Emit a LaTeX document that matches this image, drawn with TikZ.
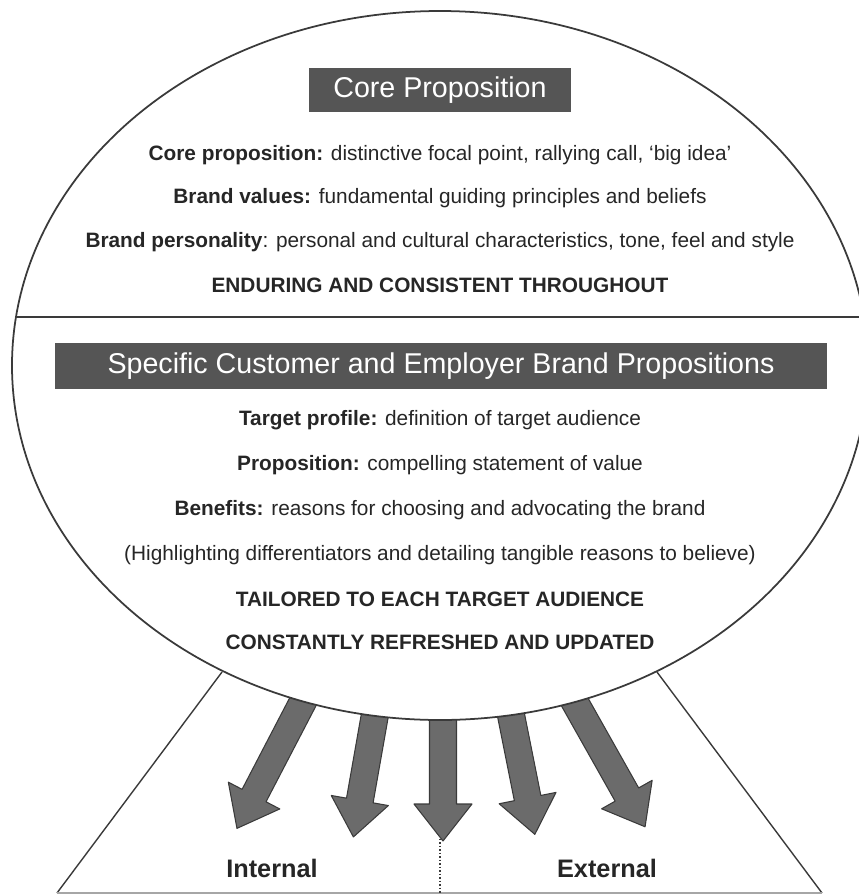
\documentclass[tikz,border=0pt]{standalone}
\usepackage{fontspec}
\setmainfont{Liberation Sans}
\usepackage{tikz}
\usetikzlibrary{positioning,calc}

\definecolor{boxgray}{HTML}{555555}
\definecolor{arrowgray}{HTML}{6B6B6B}
\definecolor{linegray}{HTML}{3A3A3A}

\tikzset{
  titlebox/.style={fill=boxgray, text=white, inner sep=0pt,
    font=\fontsize{16.3}{18}\selectfont},
  bodytext/.style={inner sep=0pt, text=black!85,
    font=\fontsize{11.85}{14}\selectfont},
  sidetext/.style={inner sep=0pt, text=black!85,
    font=\fontsize{14.4}{16}\selectfont\bfseries},
  fatarrow/.style={fill=arrowgray, draw=linegray, line width=0.6pt, line join=round}
}

\begin{document}
\begin{tikzpicture}[x=0.02cm, y=-0.02cm]

\useasboundingbox (0,0) rectangle (859,894);
\clip (0,0) rectangle (859,894);

% Fan below the ellipse
\coordinate (fl) at (222,672);
\coordinate (fr) at (657,672);
\coordinate (bl) at (57,893);
\coordinate (br) at (822,893);
\draw[linegray, line width=0.8pt] (fl) -- (bl);
\draw[linegray, line width=0.8pt] (fr) -- (br);
\draw[black!35, line width=0.8pt] (bl) -- (br);

% Dotted divider
\coordinate (dtop) at (440,712);
\coordinate (dbot) at (440,894);
\draw[linegray, densely dotted, line width=1pt] (dtop) -- (dbot);

% Arrows out of the ellipse
\foreach \tx/\ty/\ang/\len in {309/690/-117.5/156, 377/703/-100/136,
    443/706/-90/135, 508/700/-78.7/137, 568/690/-60.6/157}{
  \begin{scope}[shift={(\tx,\ty)}, rotate=\ang]
    \draw[fatarrow] (0,-13.5) -- (\len-37,-13.5) -- (\len-37,-29) -- (\len,0)
      -- (\len-37,29) -- (\len-37,13.5) -- (0,13.5) -- cycle;
  \end{scope}
}

% Ellipse
\coordinate (ec) at (440,365.5);
\draw[fill=white, draw=linegray, line width=1pt] (ec) ellipse [x radius=428, y radius=354.5];

% Divider between the two halves
\begin{scope}
  \clip (ec) ellipse [x radius=428, y radius=354.5];
  \draw[linegray, line width=1.2pt] (0,317) -- (900,317);
\end{scope}

% Upper half
\node[titlebox, minimum width=5.26cm, minimum height=0.88cm] (core) at (440,90) {Core Proposition};
\node[bodytext] (coreprop) at (440,155) {\textbf{Core proposition:} distinctive focal point, rallying call, `big idea'};
\node[bodytext] (values) at (440,198) {\textbf{Brand values:} fundamental guiding principles and beliefs};
\node[bodytext] (personality) at (440,242) {\textbf{Brand personality}: personal and cultural characteristics, tone, feel and style};
\node[bodytext, font=\fontsize{11.85}{14}\selectfont\bfseries] (enduring) at (440,285) {ENDURING AND CONSISTENT THROUGHOUT};

% Lower half
\node[titlebox, minimum width=15.44cm, minimum height=0.92cm] (specific) at (441,366) {Specific Customer and Employer Brand Propositions};
\node[bodytext] (target) at (440,420) {\textbf{Target profile:} definition of target audience};
\node[bodytext] (proposition) at (440,465) {\textbf{Proposition:} compelling statement of value};
\node[bodytext] (benefits) at (440,510) {\textbf{Benefits:} reasons for choosing and advocating the brand};
\node[bodytext] (highlight) at (440,555) {(Highlighting differentiators and detailing tangible reasons to believe)};
\node[bodytext, font=\fontsize{11.85}{14}\selectfont\bfseries] (tailored) at (440,599) {TAILORED TO EACH TARGET AUDIENCE};
\node[bodytext, font=\fontsize{11.85}{14}\selectfont\bfseries] (refreshed) at (440,642) {CONSTANTLY REFRESHED AND UPDATED};

% Audience labels
\node[sidetext] (internal) at (272,868) {Internal};
\node[sidetext] (external) at (607,868) {External};

\end{tikzpicture}
\end{document}
